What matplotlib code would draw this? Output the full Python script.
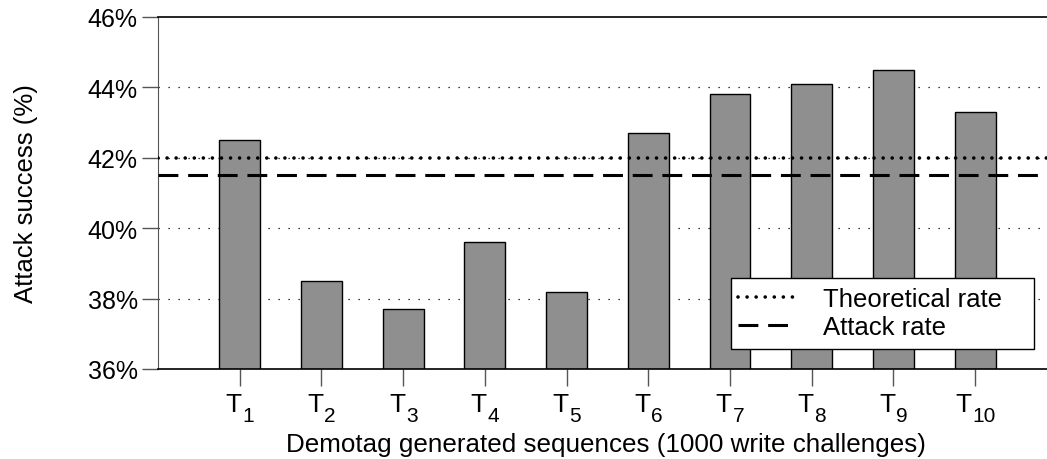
import matplotlib
matplotlib.use("Agg")
import matplotlib.pyplot as plt
from matplotlib.patches import Rectangle
import numpy as np

plt.rcParams['font.family'] = ['Liberation Sans', 'DejaVu Sans']

# Data
sequences = ['1', '2', '3', '4', '5', '6', '7', '8', '9', '10']
success = [42.5, 38.5, 37.7, 39.6, 38.2, 42.7, 43.8, 44.1, 44.5, 43.3]
theoretical_rate = 42.0
attack_rate = 41.5
y_ticks = [36, 38, 40, 42, 44, 46]

W, H = 1047, 460
fig = plt.figure(figsize=(W / 100, H / 100), dpi=100)
ax = fig.add_axes([158 / W, 1 - 370 / H, 1 - 158 / W, 352 / H])

x = np.arange(1, len(sequences) + 1)

# Grid lines (dotted, behind bars)
for yv in y_ticks[1:-1]:
    ax.axhline(yv, color='black', lw=0.9, linestyle=(0, (1, 7)), zorder=0.5)

ax.bar(x, success, width=0.5, color='#8f8f8f', edgecolor='black',
       linewidth=1.0, zorder=2)

ax.axhline(theoretical_rate, color='black', lw=2.6,
           linestyle=(0, (0.01, 2.5)), dash_capstyle='round', zorder=3,
           label='Theoretical rate')
ax.axhline(attack_rate, color='black', lw=2.2, linestyle=(0, (6.5, 3.2)),
           zorder=3, label='Attack rate')

ax.set_xlim(0, 10.88)
ax.set_ylim(36, 46)
ax.set_yticks(y_ticks)
ax.set_yticklabels([f'{v}%' for v in y_ticks])
ax.set_xticks(x)
ax.set_xticklabels([])

ax.tick_params(axis='y', direction='out', length=11.5, width=1, color='#555555',
               labelsize=18, pad=3)
ax.tick_params(axis='x', direction='out', length=12, width=1, color='#555555')

# T_n tick labels with big subscripts (pixel offsets)
t_size, sub_size = 19, 15
t_w, d_w, gap = 16, 11.5, 1
for xi, s in zip(x, sequences):
    width = t_w + gap + len(s) * d_w
    left = -width / 2
    ax.annotate('T', xy=(xi, 0), xycoords=('data', 'axes fraction'),
                xytext=(left, -42), textcoords='offset pixels',
                ha='left', va='baseline', fontsize=t_size, annotation_clip=False)
    ax.annotate(s, xy=(xi, 0), xycoords=('data', 'axes fraction'),
                xytext=(left + t_w + gap, -52), textcoords='offset pixels',
                ha='left', va='baseline', fontsize=sub_size, annotation_clip=False)

ax.spines['right'].set_visible(False)
ax.spines['left'].set_color('#555555')
ax.spines['top'].set_linewidth(1.2)
ax.spines['bottom'].set_linewidth(1.2)

ax.set_ylabel('Attack success (%)', fontsize=18.5, labelpad=36)
fig.text(606 / W, 1 - 452 / H,
         'Demotag generated sequences (1000 write challenges)',
         ha='center', va='baseline', fontsize=18.7)

# legend box drawn separately so its padding matches the reference
box = Rectangle((731 / W, 1 - 350 / H), 303 / W, 71 / H,
                transform=fig.transFigure, facecolor='white',
                edgecolor='black', linewidth=1.0, zorder=4)
fig.add_artist(box)
leg = ax.legend(loc='upper left', bbox_to_anchor=(738 / W, 1 - 288 / H),
                bbox_transform=fig.transFigure, borderaxespad=0, borderpad=0,
                fontsize=18.5, frameon=False, handlelength=2.2,
                labelspacing=0.15, handletextpad=1.1)
leg.set_zorder(5)
fig.add_artist(leg)

fig.savefig('out.png', dpi=100)
